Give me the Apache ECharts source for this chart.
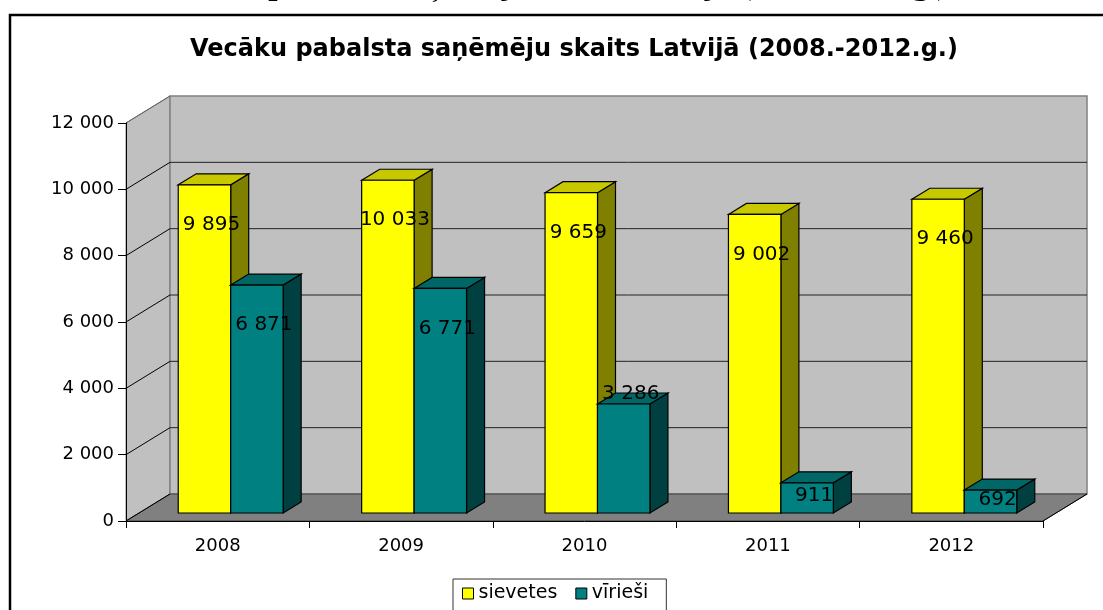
<!DOCTYPE html>
<html lang="lv">
<head>
    <meta charset="UTF-8">
    <title>Vecāku pabalsta saņēmēju skaits Latvijā</title>
    <style>
        html, body { margin: 0; padding: 0; background: #fff; }
        #chart { width: 1103px; height: 610px; }
    </style>
    <script src="https://cdn.jsdelivr.net/npm/echarts@6/dist/echarts.min.js"></script>
</head>
<body>
    <div id="chart"></div>
    <script>
        var years = ['2008', '2009', '2010', '2011', '2012'];
        var sievetes = [9895, 10033, 9659, 9002, 9460];
        var virieSi = [6871, 6771, 3286, 911, 692];
        var yTicks = [0, 2000, 4000, 6000, 8000, 10000, 12000];

        var chart = echarts.init(document.getElementById('chart'));

        // 3D nobīdes (pikseļos)
        var WALL_DX = 44, WALL_DY = -27;   // aizmugures siena
        var BAR_DX = 13, BAR_DY = -8;      // stabiņu plakne
        var DEPTH_DX = 18, DEPTH_DY = -11; // stabiņa dziļums

        function fmt(v) {
            return String(v).replace(/\B(?=(\d{3})+(?!\d))/g, ' ');
        }

        function renderWalls(params, api) {
            var cs = params.coordSys;
            var x0 = cs.x, x1 = cs.x + cs.width;
            var yMax = api.coord([0, yTicks[yTicks.length - 1]])[1];
            var yZero = api.coord([0, 0])[1];
            var children = [];
            // sānu siena
            children.push({
                type: 'polygon',
                shape: { points: [[x0, yZero], [x0, yMax], [x0 + WALL_DX, yMax + WALL_DY], [x0 + WALL_DX, yZero + WALL_DY]] },
                style: { fill: '#c0c0c0', stroke: '#808080', lineWidth: 1 }
            });
            // aizmugures siena
            children.push({
                type: 'rect',
                shape: { x: x0 + WALL_DX, y: yMax + WALL_DY, width: cs.width, height: yZero - yMax },
                style: { fill: '#c0c0c0', stroke: '#808080', lineWidth: 1.5 }
            });
            // grīda
            children.push({
                type: 'polygon',
                shape: { points: [[x0, yZero], [x0 + WALL_DX, yZero + WALL_DY], [x1 + WALL_DX, yZero + WALL_DY], [x1, yZero]] },
                style: { fill: '#808080', stroke: '#404040', lineWidth: 1 }
            });
            children.push({
                type: 'line',
                shape: { x1: x1, y1: yZero, x2: x1 + WALL_DX, y2: yZero + WALL_DY },
                style: { stroke: '#000', lineWidth: 1 }
            });
            // režģa līnijas
            for (var i = 1; i < yTicks.length - 1; i++) {
                var y = api.coord([0, yTicks[i]])[1];
                children.push({
                    type: 'line',
                    shape: { x1: x0, y1: y, x2: x0 + WALL_DX, y2: y + WALL_DY },
                    style: { stroke: '#000', lineWidth: 1 }
                });
                children.push({
                    type: 'line',
                    shape: { x1: x0 + WALL_DX, y1: y + WALL_DY, x2: x1 + WALL_DX, y2: y + WALL_DY },
                    style: { stroke: '#222', lineWidth: 1 }
                });
            }
            children.push({
                type: 'line',
                shape: { x1: x0, y1: yZero, x2: x0 + WALL_DX, y2: yZero + WALL_DY },
                style: { stroke: '#000', lineWidth: 1 }
            });
            children.push({
                type: 'line',
                shape: { x1: x0, y1: yMax, x2: x0 + WALL_DX, y2: yMax + WALL_DY },
                style: { stroke: '#606060', lineWidth: 1 }
            });
            return { type: 'group', children: children };
        }

        function makeBarRenderer(side, colors) {
            return function (params, api) {
                var idx = api.value(0);
                var val = api.value(1);
                var top = api.coord([idx, val]);
                var bottom = api.coord([idx, 0]);
                var bw = api.size([1, 0])[0] * 0.286;
                var cx = top[0] + BAR_DX;
                var l = side === 0 ? cx - bw : cx;
                var r = l + bw;
                var t = top[1] + BAR_DY;
                var b = bottom[1] + BAR_DY;
                var h = b - t;
                var stroke = { stroke: '#000', lineWidth: 1.2 };
                var labelY;
                if (h > 150) labelY = t + 40;
                else if (h > 60) labelY = t - 10;
                else labelY = t + h / 2 - 2;
                return {
                    type: 'group',
                    children: [
                        {
                            type: 'polygon',
                            shape: { points: [[r, t], [r + DEPTH_DX, t + DEPTH_DY], [r + DEPTH_DX, b + DEPTH_DY], [r, b]] },
                            style: Object.assign({ fill: colors.side }, stroke)
                        },
                        {
                            type: 'polygon',
                            shape: { points: [[l, t], [l + DEPTH_DX, t + DEPTH_DY], [r + DEPTH_DX, t + DEPTH_DY], [r, t]] },
                            style: Object.assign({ fill: colors.top }, stroke)
                        },
                        {
                            type: 'rect',
                            shape: { x: l, y: t, width: bw, height: h },
                            style: Object.assign({ fill: colors.front }, stroke)
                        },
                        {
                            type: 'text',
                            z2: 10,
                            style: {
                                text: fmt(val),
                                x: (l + r) / 2 + 7,
                                y: labelY,
                                align: 'center',
                                verticalAlign: 'middle',
                                fontFamily: 'DejaVu Sans',
                                fontSize: 20,
                                fill: '#000'
                            }
                        }
                    ]
                };
            };
        }

        var option = {
            animation: false,
            backgroundColor: '#fff',
            graphic: [
                {
                    type: 'text',
                    x: 552,
                    y: -25,
                    scaleX: 1.23,
                    style: {
                        text: 'Vecāku pabalsta saņēmēju skaits Latvijā (2008.-2012.g.)',
                        align: 'center',
                        verticalAlign: 'top',
                        fontFamily: 'Liberation Serif',
                        fontWeight: 'bold',
                        fontSize: 27,
                        fill: '#000'
                    }
                },
                {
                    type: 'rect',
                    shape: { x: 10, y: 15, width: 1300, height: 800 },
                    style: { fill: 'none', stroke: '#000', lineWidth: 2.5 }
                },
                {
                    type: 'text',
                    x: 574,
                    y: 50,
                    style: {
                        text: 'Vecāku pabalsta saņēmēju skaits Latvijā (2008.-2012.g.)',
                        align: 'center',
                        verticalAlign: 'middle',
                        fontFamily: 'DejaVu Sans',
                        fontWeight: 'bold',
                        fontSize: 24,
                        fill: '#000'
                    }
                }
            ],
            legend: {
                data: ['sievetes', 'vīrieši'],
                left: 453,
                top: 579,
                padding: [5, 18, 10, 9],
                itemGap: 18,
                itemWidth: 11,
                itemHeight: 11,
                icon: 'rect',
                borderColor: '#333',
                borderWidth: 1,
                itemStyle: { borderColor: '#000', borderWidth: 1 },
                textStyle: { fontFamily: 'DejaVu Sans', fontSize: 19, color: '#000' }
            },
            grid: {
                left: 126,
                right: 60,
                top: 123,
                bottom: 89
            },
            xAxis: {
                type: 'category',
                data: years,
                axisLine: { lineStyle: { color: '#000', width: 1 } },
                axisTick: { show: true, length: 7, lineStyle: { color: '#000' } },
                axisLabel: { margin: 16, fontFamily: 'DejaVu Sans', fontSize: 18, color: '#000' },
                splitLine: { show: false },
                z: 5
            },
            yAxis: {
                type: 'value',
                min: 0,
                max: 12000,
                interval: 2000,
                axisLine: { show: true, lineStyle: { color: '#000', width: 1 } },
                axisTick: { show: true, length: 8, lineStyle: { color: '#000' } },
                axisLabel: {
                    margin: 12,
                    fontFamily: 'DejaVu Sans',
                    fontSize: 18,
                    color: '#000',
                    formatter: fmt
                },
                splitLine: { show: false },
                z: 5
            },
            series: [
                {
                    type: 'custom',
                    name: 'walls',
                    silent: true,
                    renderItem: renderWalls,
                    data: [[0, 0]],
                    z: 1
                },
                {
                    type: 'custom',
                    name: 'sievetes',
                    itemStyle: { color: '#ffff00' },
                    renderItem: makeBarRenderer(0, { front: '#ffff00', top: '#c8c800', side: '#808000' }),
                    data: sievetes.map(function (v, i) { return [i, v]; }),
                    z: 2
                },
                {
                    type: 'custom',
                    name: 'vīrieši',
                    itemStyle: { color: '#008080' },
                    renderItem: makeBarRenderer(1, { front: '#008080', top: '#006666', side: '#004040' }),
                    data: virieSi.map(function (v, i) { return [i, v]; }),
                    z: 3
                }
            ]
        };

        chart.setOption(option);
    </script>
</body>
</html>
